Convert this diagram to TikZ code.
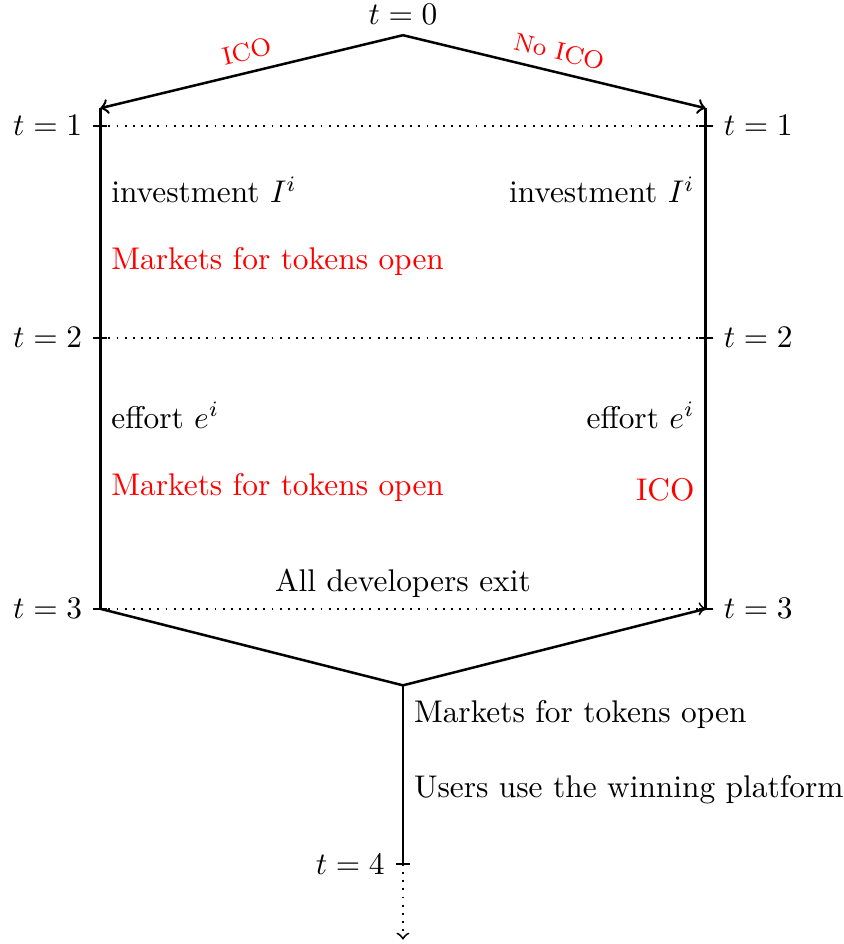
\documentclass[tikz,border=0pt]{standalone}
\usepackage{amsmath}
\usepackage{amssymb}
\usepackage{tikz}
\usetikzlibrary{positioning}

\begin{document}
\begin{tikzpicture}[
scale=0.9855,
timeline/.style={thick},
gridline/.style={dotted, semithick},
tickmark/.style={thick},
branchlabel/.style={font=\footnotesize, text=red, midway, above, sloped}
]
    \useasboundingbox (-4.58,0.40) rectangle (5.01,-10.33);

    %Coordinates
    \coordinate (t0)  at (0,0);
    \coordinate (a1L) at (-3.44,-0.83);
    \coordinate (a1R) at (3.44,-0.83);
    \coordinate (t1L) at (-3.44,-1.03);
    \coordinate (t1R) at (3.44,-1.03);
    \coordinate (t2L) at (-3.44,-3.44);
    \coordinate (t2R) at (3.44,-3.44);
    \coordinate (t3L) at (-3.44,-6.52);
    \coordinate (t3R) at (3.44,-6.52);
    \coordinate (bot) at (0,-7.39);
    \coordinate (t4)  at (0,-9.42);
    \coordinate (end) at (0,-10.28);

    %Time labels
    \node[above=0pt of t0]      (l0)  {$t=0$};
    \node[left=0.08cm of t1L]   (l1L) {$t=1$};
    \node[right=0.08cm of t1R]  (l1R) {$t=1$};
    \node[left=0.08cm of t2L]   (l2L) {$t=2$};
    \node[right=0.08cm of t2R]  (l2R) {$t=2$};
    \node[left=0.08cm of t3L]   (l3L) {$t=3$};
    \node[right=0.08cm of t3R]  (l3R) {$t=3$};
    \node[left=0.08cm of t4]    (l4)  {$t=4$};

    %Texts
    \node[anchor=west] (invL) at (-3.44,-1.76) {investment $I^i$};
    \node[anchor=east] (invR) at (3.44,-1.76)  {investment $I^i$};
    \node[anchor=west, text=red] (mkt1) at (-3.44,-2.57) {Markets for tokens open};
    \node[anchor=west] (effL) at (-3.44,-4.32) {effort $e^i$};
    \node[anchor=east] (effR) at (3.44,-4.32)  {effort $e^i$};
    \node[anchor=west, text=red] (mkt2) at (-3.44,-5.14) {Markets for tokens open};
    \node[anchor=east, text=red] (ico2) at (3.44,-5.17) {ICO};
    \node[anchor=west] (mkt3)  at (0,-7.72) {Markets for tokens open};
    \node[anchor=west] (users) at (0,-8.58) {Users use the winning platform};

    %Lines
    \draw[timeline, ->] (t0) -- node[branchlabel] (ico) {ICO} (a1L);
    \draw[timeline, ->] (t0) -- node[branchlabel] (noico) {No ICO} (a1R);
    \draw[timeline] (a1L) -- (t3L);
    \draw[timeline] (a1R) -- (t3R);
    \draw[gridline] (t1L) -- (t1R);
    \draw[gridline] (t2L) -- (t2R);
    \draw[gridline, ->] (t3L) -- node[above] (exit) {All developers exit} (t3R);
    \draw[timeline] (t3L) -- (bot) -- (t3R);
    \draw[timeline] (bot) -- (t4);
    \draw[gridline, ->] (t4) -- (end);

    %Ticks
    \foreach \p in {t1L,t1R,t2L,t2R,t3L,t3R,t4}
        \draw[tickmark] ([xshift=-0.08cm]\p) -- ([xshift=0.08cm]\p);
\end{tikzpicture}
\end{document}
